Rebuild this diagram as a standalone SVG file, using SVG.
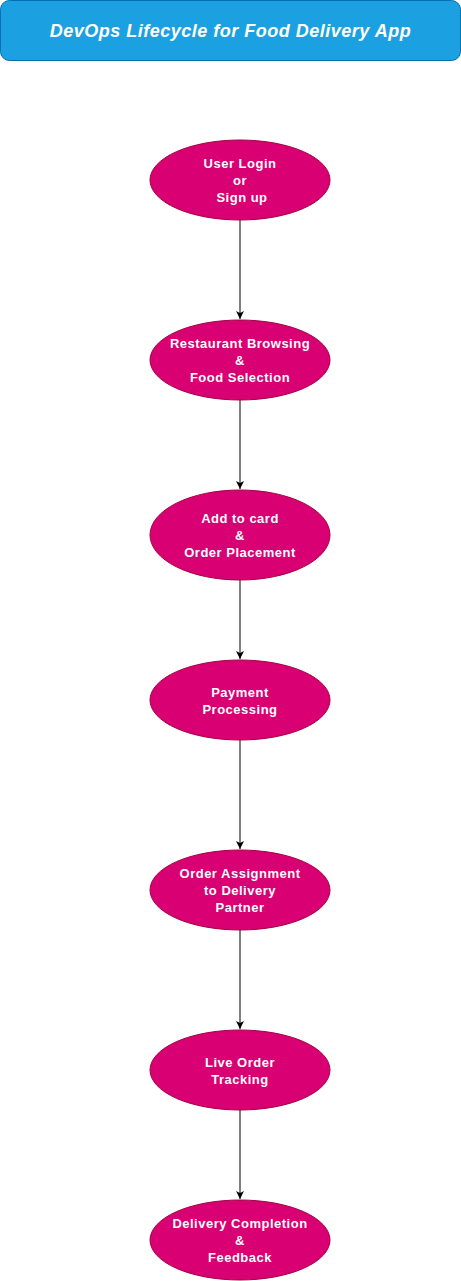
<svg xmlns="http://www.w3.org/2000/svg" width="461" height="1281" viewBox="0 0 461 1281">
<style>
.node ellipse{fill:#d80073;stroke:#a50040;stroke-width:1}
.node text{font-family:"Liberation Sans",Arial,sans-serif;font-size:13px;letter-spacing:0.5px;font-weight:bold;fill:#ffffff;text-anchor:middle}
.title text{font-family:"Liberation Sans",Arial,sans-serif;font-size:18px;letter-spacing:0.5px;font-weight:bold;font-style:italic;fill:#ffffff;text-anchor:middle}
.edges line{stroke:#000000;stroke-width:1}
</style>
<defs>
<marker id="arr" markerWidth="10" markerHeight="10" viewBox="0 0 10 10" refX="9" refY="5" orient="auto" markerUnits="userSpaceOnUse">
<path d="M1,1 L9,5 L1,9 L3,5 Z" fill="#000"/>
</marker>
</defs>
<rect width="461" height="1281" fill="#ffffff"/>
<g id="title" class="title">
<rect x="0.5" y="0.5" width="460" height="60" rx="9" fill="#1ba1e2" stroke="#006eaf"/>
<text x="230.5" y="37">DevOps Lifecycle for Food Delivery App</text>
</g>
<g id="edges" class="edges">
<line x1="240" y1="220" x2="240" y2="319" marker-end="url(#arr)"/>
<line x1="240" y1="400" x2="240" y2="489" marker-end="url(#arr)"/>
<line x1="240" y1="580" x2="240" y2="659" marker-end="url(#arr)"/>
<line x1="240" y1="740" x2="240" y2="849" marker-end="url(#arr)"/>
<line x1="240" y1="930" x2="240" y2="1029" marker-end="url(#arr)"/>
<line x1="240" y1="1110" x2="240" y2="1199" marker-end="url(#arr)"/>
</g>
<g id="n1" class="node">
<ellipse cx="240" cy="180" rx="90" ry="40"/>
<text x="240" y="168">User Login</text>
<text x="240" y="185">or</text>
<text x="242" y="202">Sign up</text>
</g>
<g id="n2" class="node">
<ellipse cx="240" cy="360" rx="90" ry="40"/>
<text x="240" y="348">Restaurant Browsing</text>
<text x="240" y="365">&amp;</text>
<text x="240" y="382">Food Selection</text>
</g>
<g id="n3" class="node">
<ellipse cx="240" cy="535" rx="90" ry="45"/>
<text x="240" y="523">Add to card</text>
<text x="240" y="540">&amp;</text>
<text x="240" y="557">Order Placement</text>
</g>
<g id="n4" class="node">
<ellipse cx="240" cy="700" rx="90" ry="40"/>
<text x="240" y="697">Payment</text>
<text x="240" y="714">Processing</text>
</g>
<g id="n5" class="node">
<ellipse cx="240" cy="890" rx="90" ry="40"/>
<text x="240" y="878">Order Assignment</text>
<text x="240" y="895">to Delivery</text>
<text x="240" y="912">Partner</text>
</g>
<g id="n6" class="node">
<ellipse cx="240" cy="1070" rx="90" ry="40"/>
<text x="240" y="1067">Live Order</text>
<text x="240" y="1084">Tracking</text>
</g>
<g id="n7" class="node">
<ellipse cx="240" cy="1240" rx="90" ry="40"/>
<text x="240" y="1228">Delivery Completion</text>
<text x="240" y="1245">&amp;</text>
<text x="240" y="1262">Feedback</text>
</g>
</svg>
